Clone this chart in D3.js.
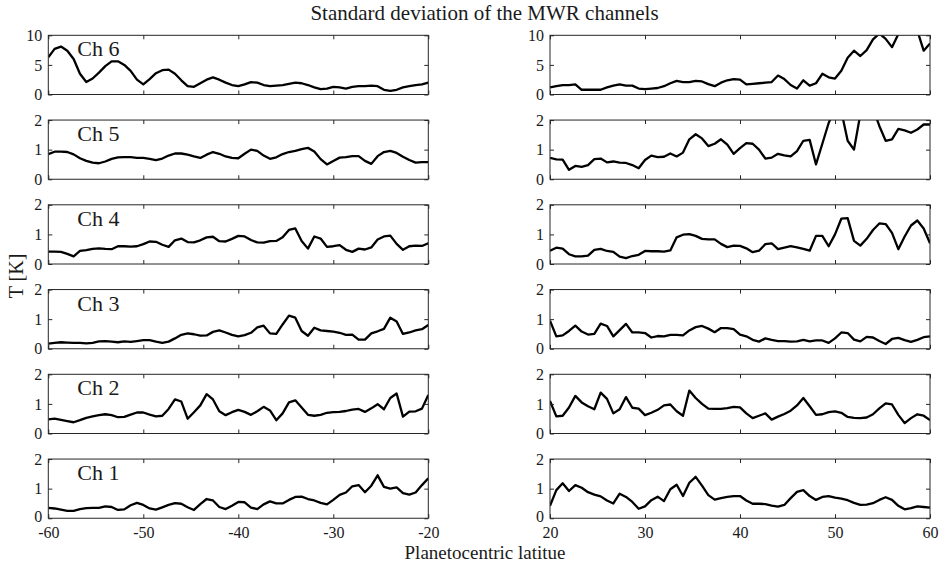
<!DOCTYPE html>
<html>
<head>
<meta charset="utf-8">
<script src="https://cdn.jsdelivr.net/npm/d3@7"></script>
<style>
  body { margin: 0; background: #fff; }
  text { font-family: "Liberation Serif", "Times New Roman", serif; fill: #1a1a1a; }
</style>
</head>
<body>
<svg id="fig" width="941" height="565"></svg>
<script>
// Latitude grids (2/3 degree steps) for the southern and northern panels
const latSouth = d3.range(61).map(i => -60 + i * 2 / 3);
const latNorth = d3.range(61).map(i => 20 + i * 2 / 3);

const xTicksSouth = [-60, -50, -40, -30, -20];
const xTicksNorth = [20, 30, 40, 50, 60];

const channels = ["Ch 6", "Ch 5", "Ch 4", "Ch 3", "Ch 2", "Ch 1"];
const yMax = [10, 2, 2, 2, 2, 2];
const yTicks = [[0, 5, 10], [0, 1, 2], [0, 1, 2], [0, 1, 2], [0, 1, 2], [0, 1, 2]];

// Standard deviation [K] per channel
const ch6South = [6.3,7.7,8.1,7.4,6.0, 3.5,2.1,2.7,3.7,4.8, 5.6,5.6,5.0,4.0,2.5, 1.7,2.6,3.6,4.1,4.2, 3.5,2.4,1.4,1.3,1.9, 2.5,2.9,2.5,2.0,1.6, 1.4,1.7,2.1,2.0,1.6, 1.4,1.5,1.6,1.8,2.0, 1.9,1.6,1.2,0.9,1.0, 1.3,1.2,1.0,1.3,1.4, 1.4,1.5,1.4,0.8,0.6, 0.8,1.2,1.4,1.6,1.7, 2.0];
const ch6North = [1.2,1.4,1.6,1.6,1.7, 0.8,0.8,0.8,0.8,1.2, 1.5,1.7,1.5,1.5,1.0, 0.9,1.0,1.1,1.4,1.9, 2.3,2.1,2.1,2.3,2.2, 1.75,1.4,2.0,2.4,2.6, 2.5,1.7,1.8,1.9,2.0, 2.1,3.2,2.6,1.6,1.0, 2.4,1.5,1.9,3.5,2.9, 2.7,4.0,6.2,7.4,6.5, 7.5,9.3,10.3,9.4,8.0, 10.2,12.5,13.5,10.8,7.4, 8.6];

const ch5South = [0.85,0.93,0.93,0.92,0.84, 0.71,0.62,0.56,0.54,0.6, 0.69,0.74,0.75,0.75,0.72, 0.72,0.69,0.65,0.7,0.8, 0.87,0.87,0.83,0.77,0.72, 0.83,0.92,0.86,0.77,0.72, 0.71,0.86,1.0,0.96,0.8, 0.69,0.74,0.85,0.92,0.96, 1.02,1.06,0.94,0.68,0.5, 0.62,0.73,0.75,0.78,0.78, 0.62,0.52,0.78,0.92,0.96, 0.89,0.76,0.65,0.56,0.58, 0.58];
const ch5North = [0.72,0.67,0.66,0.32,0.45, 0.42,0.48,0.68,0.7,0.57, 0.6,0.56,0.55,0.48,0.37, 0.65,0.8,0.75,0.76,0.87, 0.77,0.9,1.35,1.52,1.38, 1.12,1.2,1.35,1.17,0.86, 1.05,1.22,1.2,1.0,0.7, 0.73,0.86,0.81,0.77,0.95, 1.3,1.33,0.5,1.2,1.9, 2.4,2.3,1.3,1.0,2.2, 2.5,2.4,1.8,1.3,1.35, 1.7,1.65,1.57,1.68,1.85, 1.85];

const ch4South = [0.42,0.42,0.41,0.34,0.26, 0.44,0.47,0.51,0.53,0.51, 0.5,0.6,0.6,0.59,0.6, 0.67,0.76,0.75,0.65,0.58, 0.8,0.86,0.74,0.73,0.8, 0.9,0.92,0.77,0.76,0.85, 0.95,0.93,0.81,0.73,0.72, 0.77,0.78,0.9,1.15,1.2, 0.78,0.52,0.93,0.86,0.58, 0.6,0.64,0.48,0.41,0.52, 0.49,0.56,0.83,0.93,0.96, 0.68,0.48,0.6,0.62,0.61, 0.7];
const ch4North = [0.45,0.55,0.52,0.33,0.26, 0.26,0.28,0.48,0.51,0.44, 0.41,0.25,0.2,0.27,0.31, 0.44,0.43,0.43,0.42,0.46, 0.9,0.99,1.01,0.95,0.85, 0.83,0.83,0.68,0.57,0.62, 0.61,0.53,0.4,0.45,0.67, 0.7,0.5,0.55,0.6,0.56, 0.51,0.45,0.95,0.95,0.6, 1.0,1.53,1.55,0.78,0.62, 0.85,1.15,1.37,1.35,1.05, 0.5,0.93,1.3,1.47,1.2, 0.7];

const ch3South = [0.17,0.2,0.22,0.21,0.2, 0.2,0.18,0.2,0.25,0.26, 0.24,0.22,0.25,0.23,0.26, 0.29,0.29,0.24,0.2,0.24, 0.35,0.47,0.52,0.49,0.44, 0.45,0.57,0.62,0.55,0.47, 0.42,0.46,0.54,0.72,0.78, 0.52,0.5,0.82,1.12,1.05, 0.6,0.44,0.71,0.62,0.6, 0.58,0.54,0.47,0.48,0.31, 0.31,0.52,0.59,0.67,1.05, 0.92,0.5,0.55,0.62,0.66, 0.8];
const ch3North = [0.95,0.42,0.45,0.6,0.78, 0.58,0.48,0.5,0.85,0.77, 0.42,0.63,0.84,0.55,0.55, 0.53,0.38,0.43,0.42,0.47, 0.47,0.45,0.62,0.73,0.77, 0.68,0.56,0.7,0.7,0.66, 0.48,0.42,0.3,0.24,0.35, 0.3,0.26,0.26,0.24,0.25, 0.3,0.25,0.28,0.28,0.2, 0.35,0.55,0.53,0.31,0.25, 0.4,0.38,0.26,0.16,0.33, 0.37,0.29,0.23,0.3,0.39, 0.42];

const ch2South = [0.48,0.5,0.46,0.42,0.38, 0.45,0.53,0.58,0.62,0.65, 0.62,0.55,0.56,0.64,0.71, 0.71,0.64,0.58,0.6,0.83, 1.15,1.08,0.5,0.72,0.95, 1.33,1.15,0.75,0.62,0.72, 0.8,0.73,0.63,0.75,0.9, 0.78,0.45,0.68,1.05,1.12, 0.88,0.63,0.6,0.63,0.7, 0.72,0.73,0.76,0.81,0.83, 0.73,0.85,0.99,0.82,1.2, 1.35,0.57,0.74,0.75,0.84, 1.3];
const ch2North = [1.1,0.58,0.6,0.88,1.27, 1.05,0.92,0.82,1.38,1.17, 0.68,0.82,1.23,0.87,0.84, 0.62,0.7,0.8,0.95,0.98, 0.75,0.6,1.45,1.2,1.0, 0.84,0.83,0.83,0.86,0.9, 0.88,0.68,0.52,0.6,0.68, 0.47,0.57,0.66,0.77,0.95, 1.2,0.92,0.63,0.65,0.72, 0.75,0.7,0.56,0.53,0.52, 0.54,0.65,0.85,1.02,0.98, 0.63,0.35,0.52,0.65,0.6, 0.45];

const ch1South = [0.35,0.33,0.29,0.25,0.25, 0.31,0.34,0.35,0.35,0.4, 0.38,0.28,0.3,0.44,0.52, 0.45,0.33,0.29,0.37,0.45, 0.51,0.49,0.37,0.28,0.48, 0.65,0.6,0.38,0.31,0.42, 0.55,0.54,0.36,0.31,0.47, 0.57,0.5,0.5,0.62,0.72, 0.73,0.65,0.6,0.52,0.47, 0.62,0.79,0.87,1.08,1.12, 0.88,1.1,1.45,1.06,1.0, 1.04,0.85,0.8,0.87,1.12, 1.35];
const ch1North = [0.42,0.95,1.18,0.92,1.12, 1.03,0.88,0.8,0.74,0.6, 0.5,0.83,0.72,0.55,0.32, 0.4,0.61,0.73,0.58,0.98, 1.13,0.75,1.2,1.4,1.1, 0.78,0.63,0.68,0.72,0.75, 0.75,0.6,0.49,0.49,0.48, 0.43,0.39,0.45,0.68,0.89, 0.95,0.75,0.62,0.72,0.75, 0.7,0.66,0.61,0.52,0.45, 0.46,0.51,0.62,0.71,0.62, 0.42,0.3,0.34,0.4,0.38, 0.36];

const southSeries = [ch6South, ch5South, ch4South, ch3South, ch2South, ch1South];
const northSeries = [ch6North, ch5North, ch4North, ch3North, ch2North, ch1North];

// Layout
const svg = d3.select("#fig");
const colLeft = [48.3, 550];
const panelW = 380;
const panelH = 59.2;
const rowTop = r => 35.3 + r * 84.75;
const axisColor = "#262626";
const tickLen = 4;

const columns = [
  { lat: latSouth, ticks: xTicksSouth, series: southSeries, domain: [-60, -20] },
  { lat: latNorth, ticks: xTicksNorth, series: northSeries, domain: [20, 60] }
];

columns.forEach((col, c) => {
  const x = d3.scaleLinear().domain(col.domain).range([0, panelW]);
  channels.forEach((name, r) => {
    const y = d3.scaleLinear().domain([0, yMax[r]]).range([panelH, 0]);
    const g = svg.append("g").attr("transform", `translate(${colLeft[c]},${rowTop(r)})`);
    const clipId = `clip-${c}-${r}`;
    g.append("clipPath").attr("id", clipId)
      .append("rect").attr("x", 0).attr("y", 0).attr("width", panelW).attr("height", panelH);

    // data line
    const line = d3.line().x((d, i) => x(col.lat[i])).y(d => y(d));
    g.append("path")
      .datum(col.series[r])
      .attr("clip-path", `url(#${clipId})`)
      .attr("fill", "none")
      .attr("stroke", "#000")
      .attr("stroke-width", 2.3)
      .attr("stroke-linejoin", "round")
      .attr("d", line);

    const isBottom = r === channels.length - 1;
    // bottom axis (inward ticks), labels only on the lowest row
    const gb = g.append("g").attr("transform", `translate(0,${panelH})`)
      .call(d3.axisBottom(x).tickValues(col.ticks).tickSize(-tickLen).tickPadding(8));
    // top axis mirrored
    const gt = g.append("g").call(d3.axisTop(x).tickValues(col.ticks).tickSize(-tickLen).tickFormat(""));
    // left axis
    const gl = g.append("g").call(d3.axisLeft(y).tickValues(yTicks[r]).tickSize(-tickLen).tickPadding(6).tickFormat(d3.format("d")));
    // right axis mirrored
    const gr = g.append("g").attr("transform", `translate(${panelW},0)`)
      .call(d3.axisRight(y).tickValues(yTicks[r]).tickSize(-tickLen).tickFormat(""));

    [gb, gt, gl, gr].forEach(a => {
      a.select(".domain").remove();
      a.selectAll(".tick line").attr("stroke", axisColor).attr("stroke-width", 1);
      a.selectAll(".tick text")
        .attr("font-family", '"Liberation Serif", serif')
        .attr("font-size", 16)
        .attr("fill", "#1a1a1a");
    });
    gb.selectAll(".tick text").text(d => isBottom ? (d < 0 ? "-" + Math.abs(d) : String(d)) : "");
    // keep the lowest y label clear of the latitude labels underneath
    if (isBottom) gl.selectAll(".tick text").filter(d => d === 0).attr("dy", "0.2em");

    // frame
    g.append("rect")
      .attr("x", 0).attr("y", 0).attr("width", panelW).attr("height", panelH)
      .attr("fill", "none").attr("stroke", axisColor).attr("stroke-width", 1);

    // channel label on the southern panels
    if (c === 0) {
      g.append("text")
        .attr("x", 29).attr("y", 21)
        .attr("font-size", 22)
        .text(name);
    }
  });
});

// Title and axis labels
svg.append("text")
  .attr("x", 484.5).attr("y", 20)
  .attr("text-anchor", "middle")
  .attr("font-size", 21)
  .text("Standard deviation of the MWR channels");

svg.append("text")
  .attr("x", 485).attr("y", 559)
  .attr("text-anchor", "middle")
  .attr("font-size", 19)
  .text("Planetocentric latitue");

svg.append("text")
  .attr("transform", "translate(23,276) rotate(-90)")
  .attr("text-anchor", "middle")
  .attr("font-size", 20)
  .text("T [K]");
</script>
</body>
</html>
